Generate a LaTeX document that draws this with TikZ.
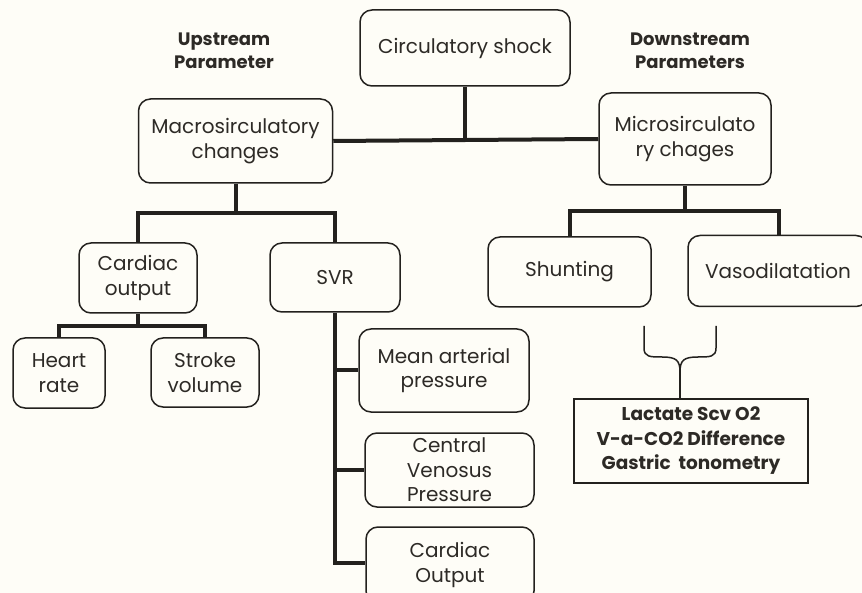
\documentclass[tikz,border=0pt]{standalone}
\usepackage{fontspec}
\setmainfont{Poppins}
\usetikzlibrary{calc}
\definecolor{linec}{RGB}{35,33,30}
\definecolor{textc}{RGB}{45,42,38}
\definecolor{paper}{RGB}{254,253,247}
\tikzset{
  box/.style={draw=linec, line width=1.5pt, rounded corners=12pt, align=center,
    inner sep=2pt, text=textc, font=\fontsize{20}{24.5}\selectfont},
  sqbox/.style={draw=linec, line width=1.5pt, align=center, inner sep=2pt,
    text=textc, font=\bfseries\fontsize{18.5}{24.5}\selectfont},
  heading/.style={align=center, text=textc, font=\bfseries\fontsize{18}{23}\selectfont},
  conn/.style={draw=linec, line width=4pt},
  thin/.style={draw=linec, line width=1.5pt}
}
\begin{document}
\begin{tikzpicture}[x=1pt,y=-1pt]
\fill[paper] (0,0) rectangle (862,593);
\useasboundingbox (0,0) rectangle (862,593);

\node[heading] (up) at (224,51) {Upstream\\Parameter};
\node[heading] (down) at (690,51) {Downstream\\Parameters};

\node[box, minimum width=210pt, minimum height=76pt] (shock) at (465,48) {Circulatory shock};
\node[box, minimum width=194pt, minimum height=84pt] (macro) at (235.5,141) {Macrosirculatory\\changes};
\node[box, minimum width=172pt, minimum height=92pt] (micro) at (685,139) {Microsirculato\\ry chages};
\node[box, minimum width=118pt, minimum height=70pt] (co) at (138,278) {Cardiac\\output};
\node[box, minimum width=130pt, minimum height=69pt] (svr) at (335,277.5) {SVR};
\node[box, minimum width=163pt, minimum height=70pt] (shunt) at (569.5,272) {Shunting};
\node[box, minimum width=180pt, minimum height=71pt] (vaso) at (778,271) {Vasodilatation};
\node[box, minimum width=92pt, minimum height=70pt] (hr) at (59,373) {Heart\\rate};
\node[box, minimum width=108pt, minimum height=69pt] (sv) at (205,372.5) {Stroke\\volume};
\node[box, minimum width=170pt, minimum height=83pt] (map) at (444,370.5) {Mean arterial\\pressure};
\node[box, minimum width=169pt, minimum height=74pt] (cvp) at (449.5,470) {Central\\Venosus\\Pressure};
\node[box, minimum width=168pt, minimum height=76pt] (cout) at (450,565) {Cardiac\\Output};
\node[sqbox, minimum width=234pt, minimum height=84pt] (lac) at (691,441) {Lactate Scv O2\\V-a-CO2 Difference\\Gastric\ \ tonometry};

% top level
\draw[conn] (macro.east) -- (micro.west);
\draw[conn] (shock.south) -- (shock.south |- micro.west);

% macro children
\coordinate (mj) at ($(macro.south)+(0,29)$);
\draw[conn] (macro.south) -- (mj);
\draw[conn] (mj) -| (co.north);
\draw[conn] (mj) -| (svr.north);

% micro children
\coordinate (uj) at ($(micro.south)+(0,25)$);
\draw[conn] (micro.south) -- (uj);
\draw[conn] (uj) -| (shunt.north);
\draw[conn] (uj) -| ($(vaso.north)+(1,0)$);

% cardiac output children
\coordinate (cj) at ($(co.south)+(0,12)$);
\draw[conn] (co.south) -- (cj);
\draw[conn] (cj) -| (hr.north);
\draw[conn] (cj) -| (sv.north);

% SVR children
\coordinate (sb) at (336,563);
\draw[conn] (svr.south) -- (svr.south |- sb) -- (sb -| cout.west);
\draw[conn] (svr.south |- map.west) -- (map.west);
\draw[conn] (svr.south |- cvp.west) -- (cvp.west);

% brace
\coordinate (bl) at (644,326);
\coordinate (br) at (716,326);
\coordinate (bt) at (680,372);
\draw[thin] (bl) -- (644,348) .. controls (644,357) and (650,357) .. (662,357) .. controls (676,357) and (680,360) .. (bt);
\draw[thin] (br) -- (716,348) .. controls (716,357) and (710,357) .. (698,357) .. controls (684,357) and (680,360) .. (bt);
\draw[thin] (bt) -- (bt |- lac.north);
\end{tikzpicture}
\end{document}
